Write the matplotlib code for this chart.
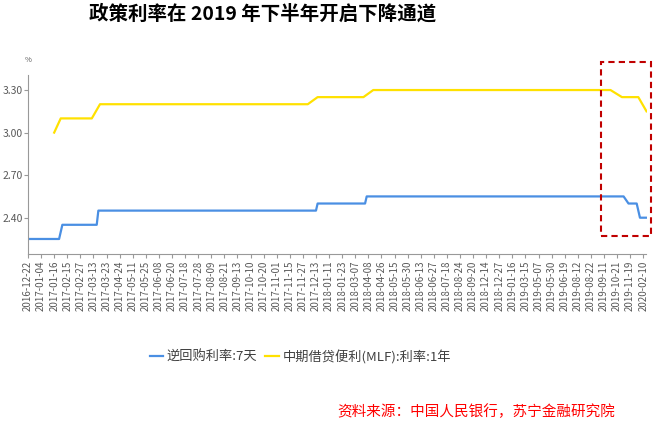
import numpy as np
import matplotlib
matplotlib.use('Agg')
import matplotlib.pyplot as plt
from matplotlib.patches import Rectangle

plt.rcParams['font.family'] = ['Noto Sans CJK SC', 'DejaVu Sans']

# 横轴显示的日期标签（每 8 个交易日一个）
tick_dates = ['2016-12-22', '2017-01-04', '2017-01-16', '2017-02-15', '2017-02-27',
              '2017-03-13', '2017-03-23', '2017-04-24', '2017-05-11', '2017-05-25',
              '2017-06-08', '2017-06-20', '2017-07-18', '2017-07-28', '2017-08-09',
              '2017-08-21', '2017-09-13', '2017-10-10', '2017-10-20', '2017-11-01',
              '2017-11-15', '2017-11-27', '2017-12-13', '2018-01-11', '2018-01-23',
              '2018-03-07', '2018-04-08', '2018-04-26', '2018-05-15', '2018-05-30',
              '2018-06-13', '2018-06-27', '2018-07-18', '2018-08-24', '2018-09-20',
              '2018-12-14', '2018-12-27', '2019-01-16', '2019-03-15', '2019-05-07',
              '2019-05-30', '2019-06-19', '2019-08-12', '2019-08-22', '2019-09-11',
              '2019-10-21', '2019-11-19', '2020-02-10']
pts_per_label = 8

# 逆回购利率:7天 （数值, 连续天数），nan 为无操作日
repo_vals = [2.25, np.nan, 2.35, 2.45, 2.50, 2.55, np.nan, 2.50, np.nan, 2.40]
repo_counts = [20, 1, 22, 134, 30, 158, 2, 6, 1, 5]

# 中期借贷便利(MLF):利率:1年
mlf_vals = [np.nan, 3.00, np.nan, 3.10, np.nan, 3.20, np.nan, 3.25, np.nan,
            3.30, np.nan, 3.25, np.nan, 3.15]
mlf_counts = [16, 1, 3, 20, 4, 128, 5, 29, 5, 146, 6, 11, 4, 1]

repo = np.repeat(repo_vals, repo_counts)
mlf = np.repeat(mlf_vals, mlf_counts)
x = np.arange(len(repo))

fig = plt.figure(figsize=(6.56, 4.23), dpi=100)
ax = fig.add_axes([28 / 656, 1 - 254.3 / 423, (646.5 - 28) / 656, (254.3 - 75) / 423])

m1 = ~np.isnan(repo)
m2 = ~np.isnan(mlf)
ax.plot(x[m1], repo[m1], color='#4a8fe3', lw=1.6, label='逆回购利率:7天')
ax.plot(x[m2], mlf[m2], color='#ffe100', lw=1.6, label='中期借贷便利(MLF):利率:1年')

ax.set_xlim(0, len(repo) - 1)
ax.set_ylim(2.142, 3.406)
ax.set_yticks([2.40, 2.70, 3.00, 3.30])
ax.set_yticklabels(['%.2f' % v for v in [2.40, 2.70, 3.00, 3.30]])
ax.set_xticks(np.arange(len(tick_dates)) * pts_per_label)
ax.set_xticklabels(tick_dates, rotation=90)

for s in ['top', 'right']:
    ax.spines[s].set_visible(False)
for s in ['left', 'bottom']:
    ax.spines[s].set_color('#999999')
ax.tick_params(axis='both', colors='#999999', labelcolor='#595959', length=3, width=0.8)
ax.tick_params(axis='y', labelsize=7.5, pad=1)
ax.tick_params(axis='x', labelsize=7, pad=1.5)

fig.text(28 / 656, 1 - 60 / 423, '%', fontsize=5.5, color='#595959', ha='center', va='center')

fig.text(0.4, 1 - 14 / 423, '政策利率在 2019 年下半年开启下降通道', fontsize=14,
         fontweight='bold', ha='center', va='center', color='black')

ax.legend(loc='center', bbox_to_anchor=(0.458, 1 - 357 / 423), bbox_transform=fig.transFigure,
          ncol=2, frameon=False, fontsize=9.5, handlelength=1.0, handletextpad=0.3,
          columnspacing=0.6, labelcolor='#404040')

fig.patches.append(Rectangle((600.7 / 656, 1 - 235.7 / 423), (651 - 600.7) / 656,
                             (235.7 - 62.3) / 423, transform=fig.transFigure, fill=False,
                             edgecolor='#c00000', lw=1.5, ls=(0, (3, 2))))

fig.text(615 / 656, 1 - 412 / 423, '资料来源：中国人民银行，苏宁金融研究院', fontsize=10.5,
         color='#ff0000', style='italic', ha='right', va='center')

fig.savefig('out.png', dpi=100)
